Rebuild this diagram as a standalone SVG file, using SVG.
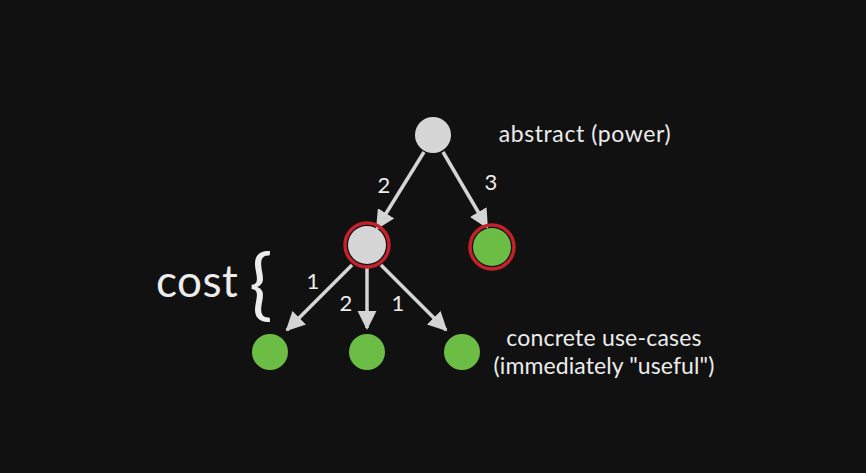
<svg xmlns="http://www.w3.org/2000/svg" width="866" height="473" viewBox="0 0 866 473">
<defs>
<marker id="ah" viewBox="0 0 10 10" refX="9" refY="5" markerWidth="5.5" markerHeight="5.5" markerUnits="strokeWidth" orient="auto">
<path d="M0,0 L10,5 L0,10 z" fill="#d4d4d4"/>
</marker>
<style>
.lbl{font-family:Lato,"Open Sans","Liberation Sans",sans-serif;fill:#ececec}
.edge{stroke:#d4d4d4;stroke-width:3.5;fill:none;marker-end:url(#ah)}
.gray{fill:#d6d6d6}
.green{fill:#6cbd45}
.ring{fill:none;stroke:#c4212b;stroke-width:3.5}
</style>
</defs>
<rect width="866" height="473" fill="#111111"/>
<g id="connectors">
<line class="edge" x1="424" y1="152" x2="377" y2="228"/>
<line class="edge" x1="443" y1="152" x2="487" y2="227"/>
<line class="edge" x1="352" y1="265" x2="287" y2="330"/>
<line class="edge" x1="367" y1="268" x2="367" y2="328"/>
<line class="edge" x1="381" y1="265" x2="446" y2="330"/>
<text class="lbl" x="384" y="193" font-size="22" text-anchor="middle">2</text>
<text class="lbl" x="491" y="190" font-size="22" text-anchor="middle">3</text>
<text class="lbl" x="313" y="289" font-size="22" text-anchor="middle">1</text>
<text class="lbl" x="346" y="311" font-size="22" text-anchor="middle">2</text>
<text class="lbl" x="398" y="311" font-size="22" text-anchor="middle">1</text>
</g>
<g id="node-abstract"><circle class="gray" cx="433" cy="135" r="18"/></g>
<g id="node-mid"><circle class="gray" cx="367" cy="245" r="19"/><circle class="ring" cx="367" cy="245" r="22"/></g>
<g id="node-right"><circle class="green" cx="492" cy="247" r="19"/><circle class="ring" cx="492" cy="247" r="22"/></g>
<g id="node-b1"><circle class="green" cx="270" cy="352" r="18"/></g>
<g id="node-b2"><circle class="green" cx="367" cy="352" r="18"/></g>
<g id="node-b3"><circle class="green" cx="462" cy="352" r="18"/></g>
<g id="labels">
<text class="lbl" x="585" y="142" font-size="23" letter-spacing="0.6" text-anchor="middle">abstract (power)</text>
<text class="lbl" x="604" y="346" font-size="23" letter-spacing="0.2" text-anchor="middle">concrete use-cases</text>
<text class="lbl" x="604" y="374" font-size="23" letter-spacing="0.1" text-anchor="middle">(immediately "useful")</text>
<text class="lbl" x="156" y="297" font-size="44" letter-spacing="0.5">cost</text>
<text class="lbl" x="249" y="311" font-size="78">{</text>
</g>
</svg>
